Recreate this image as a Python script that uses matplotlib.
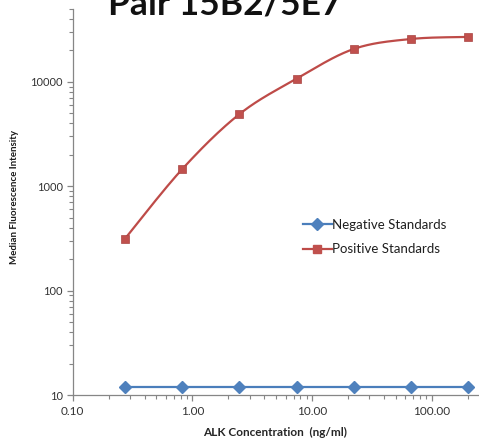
import numpy as np
import matplotlib
matplotlib.use("Agg")
import matplotlib.pyplot as plt
from matplotlib.ticker import FixedLocator, LogLocator, NullFormatter

# ---- data ----
title = "Pair 15B2/5E7"
concentration = [0.274, 0.823, 2.47, 7.41, 22.2, 66.7, 200.0]
negative = [12, 12, 12, 12, 12, 12, 12]
positive = [315, 1460, 4900, 10700, 20600, 25700, 26900]
x_ticks = [0.1, 1, 10, 100]
x_ticklabels = ["0.10", "1.00", "10.00", "100.00"]
y_ticks = [10, 100, 1000, 10000]
y_ticklabels = ["10", "100", "1000", "10000"]
series_names = ["Negative Standards", "Positive Standards"]
x_label = "ALK Concentration  (ng/ml)"
y_label = "Median Fluorescence Intensity"

plt.rcParams['font.family'] = ['Lato', 'DejaVu Sans']

W, H = 479, 444
fig = plt.figure(figsize=(W / 100, H / 100), dpi=100)

# axes geometry in pixels (plot area extends past the cropped edges)
x0_px, y0_px = 72.7, 395.0
dec_x, dec_y = 119.7, 104.4
xlim = (0.1, 1000)
ylim = (10, 50000)
w_px = dec_x * np.log10(xlim[1] / xlim[0])
h_px = dec_y * np.log10(ylim[1] / ylim[0])
ax = fig.add_axes([x0_px / W, 1 - y0_px / H, w_px / W, h_px / H])
ax.set_xscale('log')
ax.set_yscale('log')
ax.set_xlim(*xlim)
ax.set_ylim(*ylim)


def smooth(xs, ys, n=30):
    """Catmull-Rom curve through the points in log space (Excel-like smoothing)."""
    lx, ly = np.log10(xs), np.log10(ys)
    P = np.column_stack([lx, ly])
    P = np.vstack([P[0], P, P[-1]])
    out = []
    for i in range(1, len(P) - 2):
        p0, p1, p2, p3 = P[i - 1], P[i], P[i + 1], P[i + 2]
        t = np.linspace(0, 1, n)[:, None]
        seg = 0.5 * ((2 * p1) + (-p0 + p2) * t + (2 * p0 - 5 * p1 + 4 * p2 - p3) * t ** 2
                     + (-p0 + 3 * p1 - 3 * p2 + p3) * t ** 3)
        out.append(seg)
    out = np.vstack(out)
    return 10 ** out[:, 0], 10 ** out[:, 1]


blue_line, blue_mk = '#4A7EBB', '#4F81BD'
red_line, red_mk = '#BE4B48', '#C0504D'

sx, sy = smooth(concentration, negative)
ax.plot(sx, sy, color=blue_line, lw=1.6, zorder=2)
ax.plot(concentration, negative, ls='none', marker='D', ms=6, color=blue_mk, zorder=3)
sx, sy = smooth(concentration, positive)
ax.plot(sx, sy, color=red_line, lw=1.6, zorder=2)
ax.plot(concentration, positive, ls='none', marker='s', ms=5.6, color=red_mk,
        markeredgecolor='#A94442', markeredgewidth=0.5, zorder=3)

# legend proxies
h1, = ax.plot([], [], color=blue_line, lw=1.6, marker='D', ms=6, markerfacecolor=blue_mk,
              markeredgecolor=blue_mk)
h2, = ax.plot([], [], color=red_line, lw=1.6, marker='s', ms=5.6, markerfacecolor=red_mk,
              markeredgecolor=red_mk)
fig.legend([h1, h2], series_names, loc='upper left',
           bbox_to_anchor=(296 / W, 1 - 212 / H), bbox_transform=fig.transFigure,
           frameon=False, fontsize=9.5, handlelength=2.2, handletextpad=0.05,
           labelspacing=0.95, numpoints=1, borderpad=0, labelcolor='#1f1f1f')

# spines & ticks
for s in ['top', 'right']:
    ax.spines[s].set_visible(False)
for s in ['left', 'bottom']:
    ax.spines[s].set_color('#868686')
    ax.spines[s].set_linewidth(0.9)

ax.xaxis.set_major_locator(FixedLocator(x_ticks))
ax.set_xticklabels(x_ticklabels)
ax.yaxis.set_major_locator(FixedLocator(y_ticks))
ax.set_yticklabels(y_ticklabels)
ax.xaxis.set_minor_locator(LogLocator(base=10, subs=np.arange(2, 10)))
ax.yaxis.set_minor_locator(LogLocator(base=10, subs=np.arange(2, 10)))
ax.xaxis.set_minor_formatter(NullFormatter())
ax.yaxis.set_minor_formatter(NullFormatter())
ax.tick_params(which='major', direction='out', length=4, width=0.9, color='#868686',
               labelsize=8.5, labelcolor='#333333', pad=4)
ax.tick_params(which='minor', direction='out', length=3, width=0.8, color='#868686')
ax.tick_params(axis='y', which='major', labelsize=8, pad=3)

fig.text(275 / W, 1 - 432 / H, x_label, ha='center', va='center',
         fontsize=8.5, fontweight='bold', color='#262626')
fig.text(15 / W, 1 - 197 / H, y_label, ha='center', va='center', rotation=90,
         fontsize=7, fontweight='bold', color='#1a1a1a')

fig.text(225 / W, 1 - 14 / H, title, ha='center', va='baseline',
         fontsize=25.5, fontweight='bold', color='#111111')

fig.savefig('out.png', dpi=100)
